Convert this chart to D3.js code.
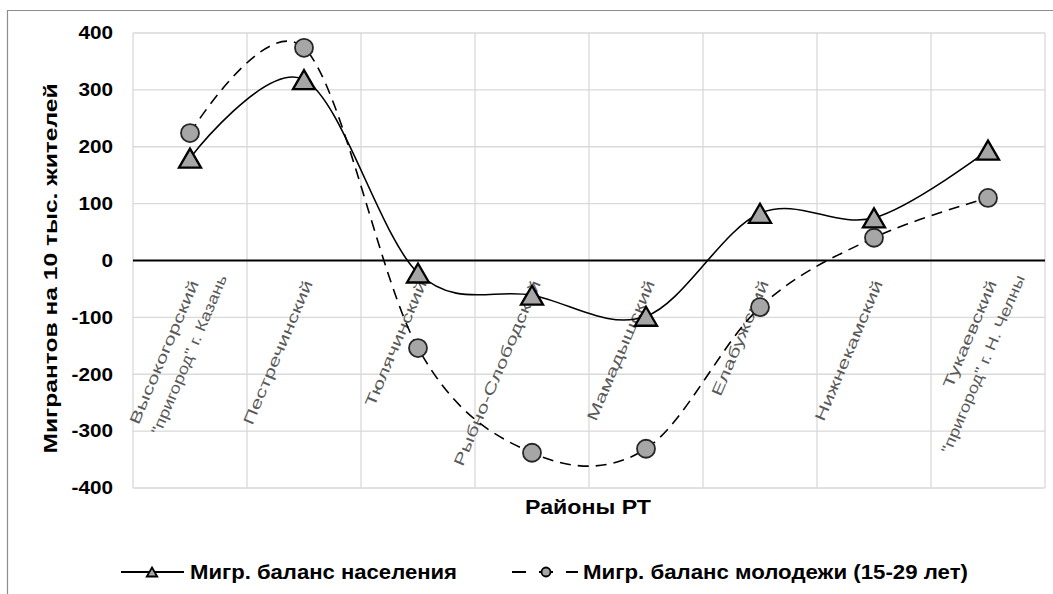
<!DOCTYPE html>
<html>
<head>
<meta charset="utf-8">
<script src="https://cdn.jsdelivr.net/npm/d3@7"></script>
<style>
  body { margin: 0; background: #fff; }
  svg { display: block; font-family: "Liberation Sans", Arial, sans-serif; }
</style>
</head>
<body>
<div id="chart"></div>
<script>
// districts of RT (label lines)
const districts = [
    ["Высокогорский", "\"пригород\" г. Казань"],
    ["Пестречинский"],
    ["Тюлячинский"],
    ["Рыбно-Слободский"],
    ["Мамадышский"],
    ["Елабужский"],
    ["Нижнекамский"],
    ["Тукаевский", "\"пригород\" г. Н. Челны"]
];
const populationBalance = [180, 318, -22, -61, -98, 83, 75, 194];
const youthBalance = [224, 374, -154, -338, -331, -82, 40, 110];
const yTicks = [400, 300, 200, 100, 0, -100, -200, -300, -400];
const seriesNames = ["Мигр. баланс населения", "Мигр. баланс молодежи (15-29 лет)"];
const yTitle = "Мигрантов на 10 тыс. жителей";
const xTitle = "Районы РТ";

const W = 1053, H = 594;
const plot = {left: 133, right: 1045, top: 33, bottom: 488};

const svg = d3.select("#chart").append("svg")
    .attr("width", W).attr("height", H);

// stretch text horizontally (the source fonts are wider/narrower than ours)
function stretch(sel, k) {
    sel.each(function(d, j) {
        const f = typeof k === "function" ? k(d, j) : k;
        const len = this.getComputedTextLength();
        d3.select(this).attr("textLength", len * f).attr("lengthAdjust", "spacingAndGlyphs");
    });
}

// outer chart frame
svg.append("path")
    .attr("d", `M7.5,${H} V10.5 H${W}`)
    .attr("fill", "none").attr("stroke", "#8c8c8c").attr("stroke-width", 1.2);

const x = d3.scaleBand().domain(d3.range(districts.length)).range([plot.left, plot.right]);
const y = d3.scaleLinear().domain([-400, 400]).range([plot.bottom, plot.top]);
const cx = i => x(i) + x.bandwidth() / 2;

// gridlines
const grid = svg.append("g").attr("stroke", "#d9d9d9").attr("stroke-width", 1.3);
grid.selectAll(".h").data(yTicks.filter(t => t !== 0)).join("line")
    .attr("x1", plot.left).attr("x2", plot.right)
    .attr("y1", d => y(d)).attr("y2", d => y(d));
grid.selectAll(".v").data(d3.range(districts.length + 1)).join("line")
    .attr("x1", i => i < districts.length ? x(i) : plot.right)
    .attr("x2", i => i < districts.length ? x(i) : plot.right)
    .attr("y1", plot.top).attr("y2", plot.bottom);

// zero line
svg.append("line")
    .attr("x1", plot.left).attr("x2", plot.right)
    .attr("y1", y(0)).attr("y2", y(0))
    .attr("stroke", "#000").attr("stroke-width", 2.2);

// y tick labels
svg.append("g").selectAll("text").data(yTicks).join("text")
    .attr("x", 113).attr("y", d => y(d)).attr("dy", "0.35em")
    .attr("text-anchor", "end")
    .attr("font-size", 18).attr("font-weight", "bold").attr("fill", "#000")
    .text(d => d)
    .call(stretch, 1.15);

// y title
svg.append("text")
    .attr("transform", `translate(57,${(plot.top + plot.bottom) / 2 + 8}) rotate(-90)`)
    .attr("text-anchor", "middle")
    .attr("font-size", 18).attr("font-weight", "bold")
    .attr("textLength", 370).attr("lengthAdjust", "spacingAndGlyphs")
    .text(yTitle);

// category labels, rotated
const labels = svg.append("g").selectAll("g").data(districts).join("g")
    .attr("transform", (d, i) => `translate(${cx(i) + 9},283) rotate(-67)`);
labels.selectAll("text").data(d => d).join("text")
    .attr("x", (d, j) => j * 16).attr("y", (d, j) => j * 24)
    .attr("text-anchor", "end")
    .attr("font-size", 15).attr("fill", "#595959")
    .text(d => d)
    .call(stretch, (d, j) => j === 0 ? 1.48 : 1.24);

// series
const curve = d3.line()
    .x((d, i) => cx(i)).y(d => y(d))
    .curve(d3.curveCardinal.tension(0));

const triangle = s => `M0,${-s * 0.5}L${s * 0.58},${s * 0.5}L${-s * 0.58},${s * 0.5}Z`;

// population: solid line, triangles
svg.append("path").datum(populationBalance)
    .attr("d", curve).attr("fill", "none")
    .attr("stroke", "#000").attr("stroke-width", 1.6);
svg.append("g").selectAll("path").data(populationBalance).join("path")
    .attr("transform", (d, i) => `translate(${cx(i)},${y(d)})`)
    .attr("d", triangle(19))
    .attr("fill", "#a6a6a6").attr("stroke", "#000").attr("stroke-width", 2.3)
    .attr("stroke-linejoin", "miter");

// youth: dashed line, circles
svg.append("path").datum(youthBalance)
    .attr("d", curve).attr("fill", "none")
    .attr("stroke", "#000").attr("stroke-width", 1.6)
    .attr("stroke-dasharray", "11,7");
svg.append("g").selectAll("circle").data(youthBalance).join("circle")
    .attr("cx", (d, i) => cx(i)).attr("cy", d => y(d)).attr("r", 9)
    .attr("fill", "#a6a6a6").attr("stroke", "#262626").attr("stroke-width", 1.8);

// x title
svg.append("text")
    .attr("x", 588).attr("y", 514)
    .attr("text-anchor", "middle")
    .attr("font-size", 20).attr("font-weight", "bold")
    .attr("font-family", "'Liberation Sans Narrow', 'Liberation Sans', sans-serif")
    .attr("textLength", 126).attr("lengthAdjust", "spacingAndGlyphs")
    .text(xTitle);

// legend
const legend = svg.append("g").attr("transform", "translate(0,572)");
legend.append("line").attr("x1", 121).attr("x2", 184).attr("stroke", "#000").attr("stroke-width", 1.8);
legend.append("path").attr("transform", "translate(152,0)").attr("d", triangle(9))
    .attr("fill", "#a6a6a6").attr("stroke", "#000").attr("stroke-width", 1.8);
legend.append("line").attr("x1", 512).attr("x2", 578).attr("stroke", "#000").attr("stroke-width", 1.8)
    .attr("stroke-dasharray", "14,13");
legend.append("circle").attr("cx", 546).attr("r", 4.5)
    .attr("fill", "#a6a6a6").attr("stroke", "#000").attr("stroke-width", 1.8);
legend.selectAll("text").data(seriesNames).join("text")
    .attr("x", (d, i) => i === 0 ? 190 : 583).attr("dy", "0.35em")
    .attr("font-size", 20).attr("font-weight", "bold")
    .attr("font-family", "'Liberation Sans Narrow', 'Liberation Sans', sans-serif")
    .attr("textLength", (d, i) => i === 0 ? 267 : 385).attr("lengthAdjust", "spacingAndGlyphs")
    .text(d => d);
</script>
</body>
</html>
